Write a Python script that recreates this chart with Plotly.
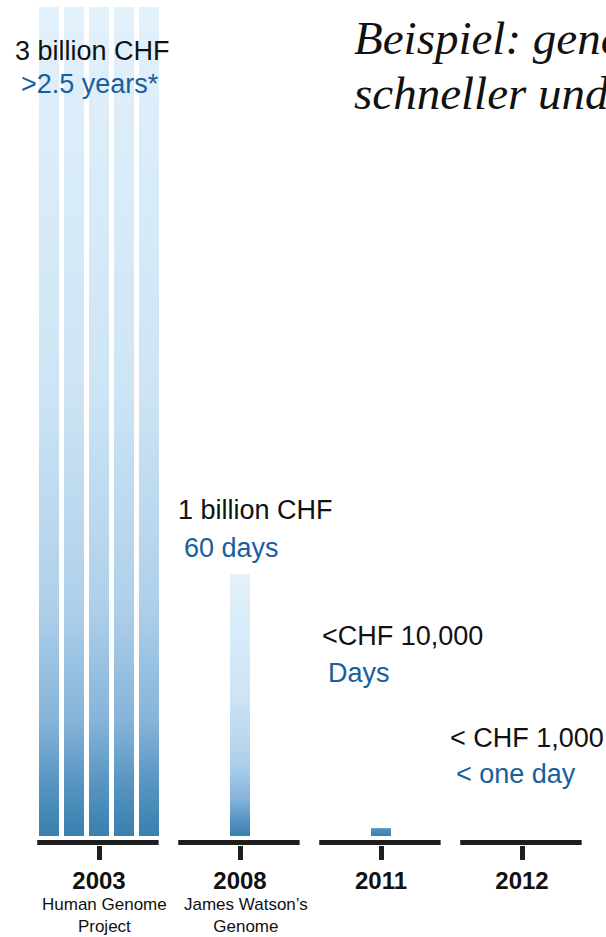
import plotly.graph_objects as go

# --- data -------------------------------------------------------------
years = ["2003", "2008", "2011", "2012"]
projects = ["Human Genome<br>Project", "James Watson’s<br>Genome", "", ""]
cost_labels = ["3 billion CHF", "1 billion CHF", "<CHF 10,000", "< CHF 1,000"]
time_labels = [">2.5 years*", "60 days", "Days", "< one day"]
# sequencing time per drawn column, in days (2003 is split into five columns)
column_days = [[190, 190, 190, 190, 190], [60], [1.8], []]
title_lines = ["Beispiel: genetische Analysen werden", "schneller und billiger"]

# --- layout constants -------------------------------------------------
W, H = 606, 937
AXIS_PX = 845            # pixel row of the x axis (bottom of plot area)
ZERO_PX = 836            # pixel row of the column bases
FIRST_CENTER_PX = 99     # pixel column of the first year
GROUP_PX = 141           # pixels between year groups
PX_PER_DAY = 829 / 190

COL_W = 20 / GROUP_PX
COL_PITCH = 25 / GROUP_PX
SEG_HALF = 0.428
MIN_GRADIENT_SPAN = 30   # keeps very short columns in the saturated part of the ramp

INK = "#111111"
BLUE_TEXT = "#18609d"
RULE = "#1e1e1e"
SANS = "Liberation Sans"
SERIF = "Liberation Serif"

BLUE_SCALE = [
    [0.00, "#3a7fae"],
    [0.05, "#4f90be"],
    [0.14, "#86b4d9"],
    [0.28, "#afd0ea"],
    [0.55, "#cee5f5"],
    [1.00, "#e2f1fb"],
]


def px_x(px):
    return px / W


def px_y(py):
    return (AXIS_PX - py) / AXIS_PX


fig = go.Figure()

# gradient columns
for gi, cols in enumerate(column_days):
    n = len(cols)
    for ci, days in enumerate(cols):
        cx = gi + (ci - (n - 1) / 2) * COL_PITCH
        x0, x1 = cx - COL_W / 2, cx + COL_W / 2
        fig.add_trace(go.Scatter(
            x=[x0, x1, x1, x0, x0],
            y=[0, 0, days, days, 0],
            mode="lines",
            fill="toself",
            line=dict(width=0, color="rgba(0,0,0,0)"),
            fillgradient=dict(type="vertical", colorscale=BLUE_SCALE,
                              start=0, stop=max(days, MIN_GRADIENT_SPAN)),
            hoverinfo="skip",
            showlegend=False,
        ))

# baseline segment under each year
shapes = []
for gi in range(len(years)):
    shapes.append(dict(
        type="line", xref="x", yref="paper",
        x0=gi - SEG_HALF - 0.01, x1=gi + SEG_HALF - 0.005,
        y0=2.5 / AXIS_PX, y1=2.5 / AXIS_PX,
        line=dict(color=RULE, width=5),
    ))

annotations = []

# cost / time labels
label_pos = [(15, 51, 84), (178, 510, 548), (322, 636, 673), (450, 738, 774)]
for (lx, cy, ty), cost, tlab in zip(label_pos, cost_labels, time_labels):
    annotations.append(dict(
        text=cost, xref="paper", yref="paper", x=px_x(lx - 2), y=px_y(cy),
        xanchor="left", yanchor="middle", showarrow=False,
        font=dict(family=SANS, size=27, color=INK),
    ))
    annotations.append(dict(
        text=tlab, xref="paper", yref="paper", x=px_x(lx + 4), y=px_y(ty),
        xanchor="left", yanchor="middle", showarrow=False,
        font=dict(family=SANS, size=27, color=BLUE_TEXT),
    ))

# project names under the years
for gi, name in enumerate(projects):
    if not name:
        continue
    annotations.append(dict(
        text=name, xref="x", yref="paper", x=gi + 0.04, y=px_y(915),
        xanchor="center", yanchor="middle", showarrow=False,
        font=dict(family=SANS, size=17, color=INK),
    ))

# heading, running off the right edge
for line, cy in zip(title_lines, (38, 93)):
    annotations.append(dict(
        text=line, xref="paper", yref="paper", x=px_x(352), y=px_y(cy),
        xanchor="left", yanchor="middle", showarrow=False,
        font=dict(family=SERIF, size=47, color=INK, style="italic"),
    ))

fig.update_layout(
    width=W, height=H,
    margin=dict(l=0, r=0, t=0, b=H - AXIS_PX, pad=0),
    paper_bgcolor="white", plot_bgcolor="white",
    showlegend=False,
    shapes=shapes,
    annotations=annotations,
    xaxis=dict(
        range=[(0 - FIRST_CENTER_PX) / GROUP_PX, (W - FIRST_CENTER_PX) / GROUP_PX],
        tickvals=list(range(len(years))),
        ticktext=[f"<b>{y}</b>" for y in years],
        ticks="outside", ticklen=14, tickwidth=5, tickcolor=RULE,
        tickfont=dict(family=SANS, size=24, color=INK),
        showgrid=False, zeroline=False, showline=False, fixedrange=True,
    ),
    yaxis=dict(
        range=[-(AXIS_PX - ZERO_PX) / PX_PER_DAY, ZERO_PX / PX_PER_DAY],
        visible=False, showgrid=False, zeroline=False, fixedrange=True,
    ),
)

fig.write_html("out.html", config=dict(displayModeBar=False))
